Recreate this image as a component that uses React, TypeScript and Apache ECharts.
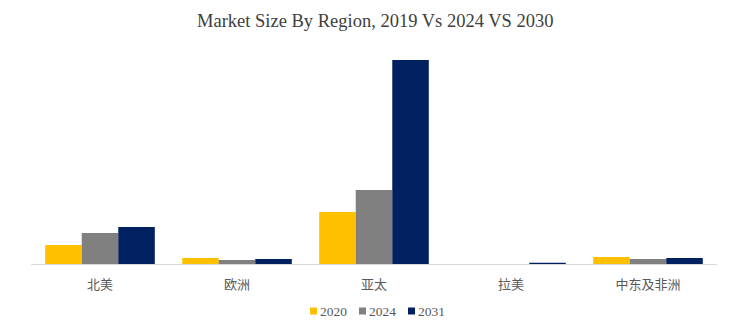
import React, { useEffect, useRef } from "react";
import * as echarts from "echarts";

const categories = ["北美", "欧洲", "亚太", "拉美", "中东及非洲"];
const s2020 = [19, 6, 52, 0, 7];
const s2024 = [31, 4, 74, 0, 5];
const s2031 = [37, 5, 204, 1.2, 6];

export default function App() {
  const ref = useRef<HTMLDivElement>(null);
  useEffect(() => {
    const chart = echarts.init(ref.current!, null, { renderer: "svg" });
    chart.setOption({
      animation: false,
      title: {
        text: "Market Size By Region, 2019 Vs 2024 VS 2030",
        left: 192,
        top: 6,
        textStyle: { fontFamily: "Liberation Serif", fontSize: 18.5, fontWeight: "normal", color: "#404040" },
      },
      legend: {
        bottom: 9,
        left: 305,
        itemWidth: 7,
        itemHeight: 7,
        itemGap: 12,
        icon: "rect",
        textStyle: { fontFamily: "Liberation Serif", fontSize: 13.5, color: "#595959", padding: [0, 0, 0, -2] },
      },
      grid: { left: 31.5, right: 14.5, top: 54, bottom: 68, containLabel: false },
      xAxis: {
        type: "category",
        data: categories,
        axisLine: { lineStyle: { color: "#d9d9d9" } },
        axisTick: { show: false },
        axisLabel: { fontFamily: "Noto Sans CJK SC", fontSize: 13, color: "#595959", margin: 13 },
      },
      yAxis: { type: "value", min: 0, max: 210, show: false, splitLine: { show: false } },
      series: [
        { name: "2020", type: "bar", data: s2020, itemStyle: { color: "#ffc000" }, barGap: "0%", barCategoryGap: "20%" },
        { name: "2024", type: "bar", data: s2024, itemStyle: { color: "#808080" } },
        { name: "2031", type: "bar", data: s2031, itemStyle: { color: "#002060" } },
      ],
    });
    return () => chart.dispose();
  }, []);
  return <div ref={ref} style={{ width: 731, height: 332, margin: -8 }} />;
}
